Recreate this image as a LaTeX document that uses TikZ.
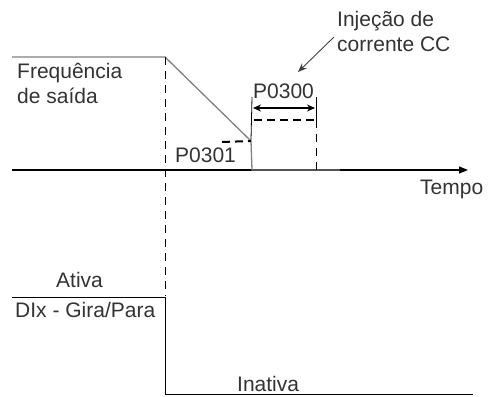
\documentclass[tikz,border=0pt]{standalone}
\usepackage{fontspec}
\setmainfont{Liberation Sans}
\usetikzlibrary{arrows.meta}

\begin{document}
\begin{tikzpicture}[x=1pt, y=-1pt,
  lbl/.style={font=\fontsize{21}{25}\selectfont, text=black!80, inner sep=0pt, align=left},
  freq/.style={draw=black!50, line width=1.3pt},
  axis/.style={-{Triangle[length=9pt,width=7pt]}, line width=1.1pt},
  guide/.style={dash pattern=on 8pt off 6pt, line width=1pt},
  bdash/.style={dash pattern=on 8pt off 5pt, line width=2pt},
  tickln/.style={line width=0.8pt},
  dim/.style={{Stealth[length=8pt,width=7pt]}-{Stealth[length=8pt,width=7pt]}, line width=1.2pt},
  note/.style={-{Stealth[length=9pt,width=7pt]}, draw=black!75, line width=0.9pt}
]
\useasboundingbox (0,0) rectangle (489,396);

% Key points
\coordinate (f0)   at (12,57);
\coordinate (fs)   at (165,57);
\coordinate (fe)   at (251,141);
\coordinate (fz)   at (252,170);
\coordinate (fend) at (340,170);
\coordinate (ax0)  at (12,170);
\coordinate (ax1)  at (468,170);
\coordinate (gd)   at (165,296);
\coordinate (d0)   at (12,297);
\coordinate (d1)   at (165,297);
\coordinate (d2)   at (165,394);
\coordinate (d3)   at (473,394);
\coordinate (p1)   at (252,97);
\coordinate (p2)   at (316,97);
\coordinate (nt0)  at (334,37);
\coordinate (nt1)  at (298,72);

% Time axis
\draw[axis] (ax0) -- (ax1);

% Output frequency
\draw[freq] (f0) -- (fs) -- (fe) -- (fz) -- (fend);

% Guide line at command
\draw[guide] (fs) -- (gd);

% Digital input
\draw[line width=1pt] (d0) -- (d1) -- (d2) -- (d3);

% P0301 level
\draw[bdash] (222,142) -- (fe);

% P0300 time window
\draw[tickln] (p1) -- (fe |- 0,140);
\draw[tickln] (p2) -- (316,120);
\draw[bdash] (254,120) -- (316,120);
\draw[guide] (316,120) -- (316,170);
\draw[dim] (253,108) -- (315,108);

% Annotation arrow
\draw[note] (nt0) -- (nt1);

% Labels
\node[lbl, anchor=base west] (lfreq) at (17,103) {Frequência\\de saída};
\node[lbl, anchor=base west] (lp300) at (253,98) {P0300};
\node[lbl, anchor=base west] (lp301) at (175,162) {P0301};
\node[lbl, anchor=base west] (linj)  at (337,52) {Injeção de\\corrente CC};
\node[lbl, anchor=base west] (ltmp)  at (420,194) {Tempo};
\node[lbl, anchor=base west] (lat)   at (56,287) {Ativa};
\node[lbl, anchor=base west] (ldi)   at (15,317) {DIx - Gira/Para};
\node[lbl, anchor=base west] (lin)   at (237,391) {Inativa};
\end{tikzpicture}
\end{document}
